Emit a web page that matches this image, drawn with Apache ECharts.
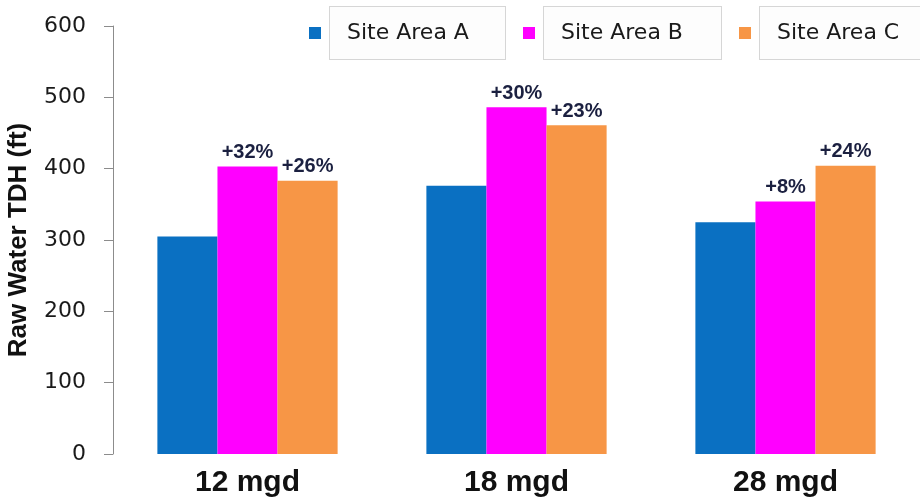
<!DOCTYPE html>
<html>
<head>
<meta charset="utf-8">
<style>
  html, body { margin: 0; padding: 0; background: #ffffff; }
  #chart { width: 920px; height: 501px; }
</style>
<script src="https://cdn.jsdelivr.net/npm/echarts@6/dist/echarts.min.js"></script>
</head>
<body>
<div id="chart"></div>
<script>
// Raw water total dynamic head by plant capacity and site area
const categories = ['12 mgd', '18 mgd', '28 mgd'];
const siteNames = ['Site Area A', 'Site Area B', 'Site Area C'];
const siteA = [305, 376, 325];
const siteB = [403, 486, 354];
const siteC = [383, 461, 404];
// Increase over Site Area A, printed above the B and C bars
const siteBIncrease = ['+32%', '+30%', '+8%'];
const siteCIncrease = ['+26%', '+23%', '+24%'];
const yTicks = [0, 100, 200, 300, 400, 500, 600];

const colors = ['#0a70c2', '#ff00ff', '#f79646'];

const chart = echarts.init(document.getElementById('chart'), null, { renderer: 'canvas' });

// One legend per site so each boxed label can sit where it belongs
function legendFor(name, left, boxWidth) {
  return {
    data: [name],
    left: left,
    top: 6,
    padding: 0,
    itemWidth: 12,
    itemHeight: 12,
    icon: 'rect',
    selectedMode: false,
    formatter: '{sp|}{box|' + name + '}',
    textStyle: {
      rich: {
        sp: { width: 4 },
        box: {
          fontFamily: 'DejaVu Sans',
          fontSize: 22,
          color: '#1a1a1a',
          width: boxWidth,
          height: 52,
          lineHeight: 52,
          padding: [0, 0, 0, 17],
          borderColor: '#d6d6d6',
          borderWidth: 1,
          backgroundColor: '#fdfdfd'
        }
      }
    }
  };
}

function labelFrom(texts) {
  return {
    show: true,
    position: 'top',
    distance: 4,
    fontFamily: 'Liberation Sans',
    fontWeight: 'bold',
    fontSize: 20,
    color: '#1b2040',
    formatter: p => texts[p.dataIndex]
  };
}

const option = {
  animation: false,
  backgroundColor: '#ffffff',
  color: colors,
  legend: [
    legendFor(siteNames[0], 309, 158),
    legendFor(siteNames[1], 523, 160),
    legendFor(siteNames[2], 739, 170)
  ],
  grid: {
    left: 113, right: 0, top: 26, bottom: 47,
    containLabel: false,
    outerBoundsMode: 'none'
  },
  xAxis: {
    type: 'category',
    data: categories,
    axisLine: { show: false },
    axisTick: { show: false },
    axisLabel: {
      margin: 14,
      fontFamily: 'Liberation Sans',
      fontWeight: 'bold',
      fontSize: 30,
      color: '#111111'
    }
  },
  yAxis: {
    type: 'value',
    min: yTicks[0],
    max: yTicks[yTicks.length - 1],
    interval: yTicks[1] - yTicks[0],
    name: 'Raw Water TDH (ft)',
    nameLocation: 'middle',
    nameGap: 81,
    nameTextStyle: {
      fontFamily: 'Liberation Sans',
      fontWeight: 'bold',
      fontSize: 26,
      color: '#111111'
    },
    axisLine: { show: true, lineStyle: { color: '#8c8c8c', width: 1 } },
    axisTick: { show: true, inside: false, length: 9, lineStyle: { color: '#8c8c8c' } },
    splitLine: { show: false },
    axisLabel: {
      margin: 27,
      fontFamily: 'DejaVu Sans',
      fontSize: 22,
      color: '#1a1a1a'
    }
  },
  series: [
    {
      name: siteNames[0],
      type: 'bar',
      data: siteA,
      barGap: '0%',
      barCategoryGap: '33%',
      itemStyle: { color: colors[0] }
    },
    {
      name: siteNames[1],
      type: 'bar',
      data: siteB,
      barGap: '0%',
      barCategoryGap: '33%',
      itemStyle: { color: colors[1] },
      label: labelFrom(siteBIncrease)
    },
    {
      name: siteNames[2],
      type: 'bar',
      data: siteC,
      barGap: '0%',
      barCategoryGap: '33%',
      itemStyle: { color: colors[2] },
      label: labelFrom(siteCIncrease)
    }
  ]
};

chart.setOption(option);
</script>
</body>
</html>
